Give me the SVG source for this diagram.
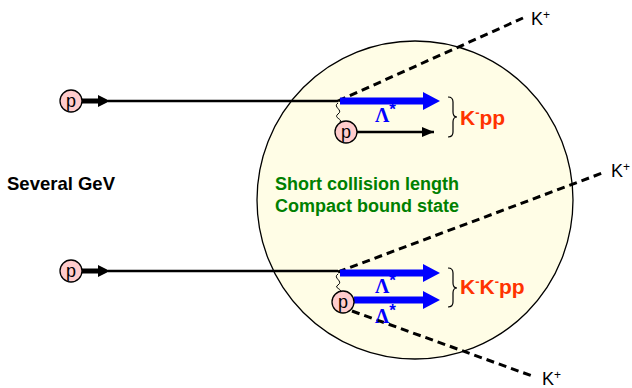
<svg xmlns="http://www.w3.org/2000/svg" width="632" height="388" viewBox="0 0 632 388">
<style>
.bg{fill:#fffde6;stroke:#000;stroke-width:1.3}
.pc{fill:#ffcccc;stroke:#000;stroke-width:1.3}
.pt{font-family:"Liberation Sans",Arial,sans-serif;font-size:18px;fill:#000;text-anchor:middle}
.ln{stroke:#000;stroke-width:2.6;fill:none}
.thick{stroke:#000;stroke-width:5;fill:none}
.dash{stroke:#000;stroke-width:3;stroke-dasharray:8,5;fill:none}
.blue{stroke:#0000ff;stroke-width:7;fill:none}
.bh{fill:#0000ff}
.wav{stroke:#000;stroke-width:1;fill:none}
.brace{stroke:#000;stroke-width:1.2;fill:none}
.kp{font-family:"Liberation Sans",Arial,sans-serif;font-size:18px;fill:#000}
.lam{font-family:"Liberation Serif","Times New Roman",serif;font-weight:bold;font-size:20px;fill:#0000ff}
.red{font-family:"Liberation Sans",Arial,sans-serif;font-weight:bold;font-size:21px;fill:#ff3300}
.grn{font-family:"Liberation Sans",Arial,sans-serif;font-weight:bold;font-size:18px;fill:#008000}
.lbl{font-family:"Liberation Sans",Arial,sans-serif;font-weight:bold;font-size:18.5px;fill:#000}
</style>
<defs>
<marker id="ah" markerUnits="userSpaceOnUse" markerWidth="12" markerHeight="12" viewBox="0 0 12 12" refX="12" refY="6" orient="auto">
<path d="M0,1 L12,6 L0,11 Z" fill="#000"/>
</marker>
</defs>
<g id="nucleus"><ellipse class="bg" cx="415" cy="200" rx="158" ry="159"/></g>
<g id="connectors">
<line class="thick" x1="82" y1="101" x2="100" y2="101"/>
<path d="M98,95 L110,101 L98,107 Z" fill="#000"/>
<line class="ln" x1="108" y1="101" x2="338" y2="101"/>
<line class="thick" x1="82" y1="271" x2="100" y2="271"/>
<path d="M98,265 L110,271 L98,277 Z" fill="#000"/>
<line class="ln" x1="108" y1="271" x2="338" y2="271"/>
<line class="dash" x1="338" y1="101" x2="523" y2="18"/>
<line class="dash" x1="338" y1="272" x2="605" y2="172"/>
<line class="dash" x1="352" y1="311" x2="535" y2="377"/>
<line class="blue" x1="340" y1="101" x2="425" y2="101"/>
<path class="bh" d="M423,92 L440,101 L423,110 Z"/>
<line class="ln" x1="357" y1="132" x2="434" y2="132" marker-end="url(#ah)"/>
<line class="blue" x1="340" y1="273" x2="425" y2="273"/>
<path class="bh" d="M423,264 L440,273 L423,282 Z"/>
<line class="blue" x1="354" y1="300" x2="425" y2="300"/>
<path class="bh" d="M423,291 L440,300 L423,309 Z"/>
<path class="wav" d="M338,103 C332,107 344,110 338,114 C333,118 343,119 340,122"/>
<path class="wav" d="M338,274 C332,278 344,281 338,285 C333,288 343,289 340,292"/>
<path class="brace" d="M448,97 Q453,97 453,102 L453,112 Q453,117 457,117 Q453,117 453,122 L453,132 Q453,137 448,137"/>
<path class="brace" d="M448,268 Q453,268 453,273 L453,283 Q453,288 457,288 Q453,288 453,293 L453,302 Q453,307 448,307"/>
</g>
<g id="p1"><circle class="pc" cx="71" cy="101" r="11"/><text class="pt" x="71" y="107">p</text></g>
<g id="p2"><circle class="pc" cx="71" cy="271" r="11"/><text class="pt" x="71" y="277">p</text></g>
<g id="p3"><circle class="pc" cx="346" cy="132" r="11"/><text class="pt" x="346" y="138">p</text></g>
<g id="p4"><circle class="pc" cx="343" cy="302" r="11"/><text class="pt" x="343" y="308">p</text></g>
<g id="labels">
<text class="lbl" x="7" y="190">Several GeV</text>
<text class="grn" x="275" y="190">Short collision length</text>
<text class="grn" x="275" y="212">Compact bound state</text>
<text class="lam" x="375" y="122">Λ<tspan font-family="Liberation Sans,Arial,sans-serif" font-size="17" dy="-7">*</tspan></text>
<text class="lam" x="375" y="293">Λ<tspan font-family="Liberation Sans,Arial,sans-serif" font-size="17" dy="-7">*</tspan></text>
<text class="lam" x="375" y="323">Λ<tspan font-family="Liberation Sans,Arial,sans-serif" font-size="17" dy="-7">*</tspan></text>
<text class="red" x="460" y="125">K<tspan font-size="13" dy="-8">-</tspan><tspan dy="8">pp</tspan></text>
<text class="red" x="460" y="294">K<tspan font-size="13" dy="-8">-</tspan><tspan dy="8">K</tspan><tspan font-size="13" dy="-8">-</tspan><tspan dy="8">pp</tspan></text>
<text class="kp" x="531" y="25">K<tspan font-size="12" dy="-6">+</tspan></text>
<text class="kp" x="611" y="177">K<tspan font-size="12" dy="-6">+</tspan></text>
<text class="kp" x="542" y="385">K<tspan font-size="12" dy="-6">+</tspan></text>
</g>
</svg>
